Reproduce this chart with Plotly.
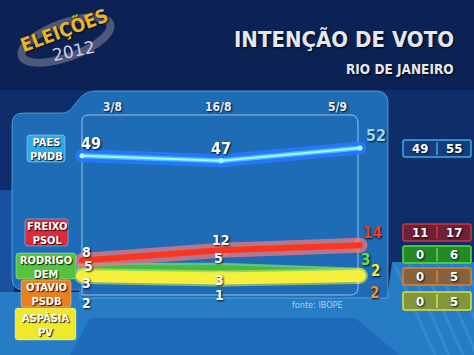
import numpy as np
import plotly.graph_objects as go

# ---------------- data ----------------
dates = ["3/8", "16/8", "5/9"]
names = ["PAES", "FREIXO", "RODRIGO", "OTAVIO", "ASPÁSIA"]
parties = ["PMDB", "PSOL", "DEM", "PSDB", "PV"]
paes = [49, 47, 52]
freixo = [8, 12, 14]
rodrigo = [5, 5, 3]
otavio = [3, 3, 2]
aspasia = [2, 1, 2]
range_low = [49, 11, 0, 0, 0]
range_high = [55, 17, 6, 5, 5]
title = "INTENÇÃO DE VOTO"
subtitle = "RIO DE JANEIRO"
source = "fonte: IBOPE"

series = [paes, freixo, rodrigo, otavio, aspasia]

W, H = 474, 355
def X(px): return px / W
def Y(py): return 1 - py / H
def pt(px, py): return f"{X(px):.5f},{Y(py):.5f}"

def rrect(x0, y0, x1, y1, r):
    return (f"M {pt(x0+r,y0)} L {pt(x1-r,y0)} Q {pt(x1,y0)} {pt(x1,y0+r)} "
            f"L {pt(x1,y1-r)} Q {pt(x1,y1)} {pt(x1-r,y1)} L {pt(x0+r,y1)} "
            f"Q {pt(x0,y1)} {pt(x0,y1-r)} L {pt(x0,y0+r)} Q {pt(x0,y0)} {pt(x0+r,y0)} Z")

FONT = "DejaVu Sans Condensed"
SH = "1px 1px 2px rgba(0,0,0,0.9)"

fig = go.Figure()
shapes = []
ann = []

# ---------------- background ----------------
shapes.append(dict(type="rect", xref="paper", yref="paper", x0=0, x1=1, y0=0, y1=1,
                   fillcolor="rgb(13,34,84)", line_width=0, layer="below"))
shapes.append(dict(type="rect", xref="paper", yref="paper", x0=0, x1=1, y0=Y(90), y1=Y(265),
                   fillcolor="rgb(15,45,106)", line_width=0, layer="below"))
shapes.append(dict(type="rect", xref="paper", yref="paper", x0=0, x1=X(14), y0=Y(300), y1=Y(190),
                   fillcolor="rgb(25,80,160)", line_width=0, layer="below"))
shapes.append(dict(type="path", xref="paper", yref="paper",
                   path=f"M {pt(0,292)} L {pt(388,292)} L {pt(392,262)} L {pt(474,262)} L {pt(474,355)} L {pt(0,355)} Z",
                   fillcolor="rgb(38,125,198)", line_width=0, layer="below"))
shapes.append(dict(type="path", xref="paper", yref="paper",
                   path=f"M {pt(70,355)} L {pt(90,318)} L {pt(355,318)} L {pt(400,355)} Z",
                   fillcolor="rgb(30,108,185)", line_width=0, layer="below"))
for k in range(6):
    x0 = 395 + k * 14
    shapes.append(dict(type="line", xref="paper", yref="paper", x0=X(x0), y0=Y(265), x1=X(x0 + 40), y1=Y(355),
                       line=dict(color="rgba(120,200,240,0.18)", width=3), layer="below"))

# panel
panel = (f"M {pt(12,124)} Q {pt(12,113)} {pt(23,113)} L {pt(62,113)} "
         f"C {pt(76,113)} {pt(76,91)} {pt(96,91)} L {pt(376,91)} Q {pt(388,91)} {pt(388,103)} "
         f"L {pt(388,298)} L {pt(80,298)} L {pt(80,290)} L {pt(24,290)} Q {pt(12,290)} {pt(12,278)} Z")
shapes.append(dict(type="path", xref="paper", yref="paper", path=panel,
                   fillcolor="rgb(30,108,182)", line=dict(color="rgba(120,190,240,0.6)", width=1), layer="below"))
# inner box outline
inner = (f"M {pt(82,295)} L {pt(82,121)} Q {pt(82,115)} {pt(88,115)} L {pt(350,115)} "
         f"Q {pt(358,115)} {pt(358,123)} L {pt(358,287)} Q {pt(358,295)} {pt(350,295)} L {pt(82,295)}")
shapes.append(dict(type="path", xref="paper", yref="paper", path=inner,
                   line=dict(color="rgba(190,225,255,0.75)", width=1), layer="below"))

# logo ring
t = np.linspace(0, 2 * np.pi, 60)
a, b, rot = 47, 17, np.deg2rad(-20)
ex = 66 + a * np.cos(t) * np.cos(rot) - b * np.sin(t) * np.sin(rot)
ey = 40 + a * np.cos(t) * np.sin(rot) + b * np.sin(t) * np.cos(rot)
ring = "M " + " L ".join(pt(x, y) for x, y in zip(ex, ey)) + " Z"
shapes.append(dict(type="path", xref="paper", yref="paper", path=ring,
                   line=dict(color="rgba(85,95,125,0.9)", width=8), layer="below"))
ann.append(dict(xref="paper", yref="paper", x=X(64), y=Y(29), text="<b>ELEIÇÕES</b>", showarrow=False,
                textangle=-20, font=dict(family=FONT, size=19, color="rgb(232,180,40)", shadow=SH)))
ann.append(dict(xref="paper", yref="paper", x=X(73), y=Y(51), text="2012", showarrow=False,
                textangle=-12, font=dict(family="DejaVu Sans", size=17, color="rgb(205,210,225)")))

# title
ann.append(dict(xref="paper", yref="paper", x=X(456), y=Y(40), xanchor="right", text=f"<b>{title}</b>",
                showarrow=False, font=dict(family=FONT, size=22, color="rgb(228,232,242)", shadow=SH)))
ann.append(dict(xref="paper", yref="paper", x=X(456), y=Y(69), xanchor="right", text=f"<b>{subtitle}</b>",
                showarrow=False, font=dict(family=FONT, size=13.5, color="rgb(228,232,242)", shadow=SH)))

# ---------------- lines ----------------
styles = {
    3: [("rgb(235,145,40)", 6)],
    2: [("rgba(110,210,110,0.85)", 11), ("rgb(70,185,70)", 6)],
    4: [("rgba(215,235,90,0.55)", 16), ("rgb(246,240,60)", 12)],
    1: [("rgba(235,120,130,0.75)", 15), ("rgb(250,55,30)", 6)],
    0: [("rgba(40,120,255,0.9)", 13), ("rgb(70,190,255)", 5), ("rgb(170,245,255)", 2)],
}
for idx in [3, 2, 4, 1, 0]:
    for j, (col, w) in enumerate(styles[idx]):
        fig.add_trace(go.Scatter(x=dates, y=series[idx], mode="lines+markers",
                                 line=dict(color=col, width=w),
                                 marker=dict(color=col, size=w if j < len(styles[idx]) - 1 or idx != 0 else 5,
                                             line_width=0),
                                 hoverinfo="skip", showlegend=False))

# value labels (offsets in px)
offsets = {
    0: [(9, 12), (0, 12), (16, 13)],
    1: [(4, 9), (0, 10), (12, 12)],
    2: [(6, 2), (-3, 10), (5, 13)],
    3: [(4, -10), (-2, -7), (14, -17)],
    4: [(4, -27), (-2, -17), (15, 5)],
}
end_colors = ["rgb(150,215,250)", "rgb(240,60,50)", "rgb(110,225,60)", "rgb(240,145,45)", "rgb(245,235,60)"]
for idx, vals in enumerate(series):
    for k, v in enumerate(vals):
        dx, dy = offsets[idx][k]
        col = end_colors[idx] if k == 2 else "white"
        size = 16 if idx == 0 else (15 if k == 2 else 14)
        ann.append(dict(x=dates[k], y=v, xshift=dx, yshift=dy, text=f"<b>{v}</b>", showarrow=False,
                        font=dict(family=FONT, size=size, color=col, shadow=SH)))

# date header
date_shift = [30, -3, -23]
for k, d in enumerate(dates):
    ann.append(dict(x=d, y=Y(107), yref="paper", xshift=date_shift[k], text=f"<b>{d}</b>", showarrow=False,
                    font=dict(family=FONT, size=12, color="rgb(235,240,250)", shadow=SH)))

# legend boxes
leg_boxes = [(27, 135, 65, 162), (25, 219, 68, 246), (16, 253, 76, 279), (21, 280, 71, 307), (15, 308, 76, 340)]
leg_cols = ["rgb(45,170,230)", "rgb(222,40,62)", "rgb(85,195,60)", "rgb(232,128,30)", "rgb(240,232,45)"]
for i in range(5):
    x0, y0, x1, y1 = leg_boxes[i]
    shapes.append(dict(type="path", xref="paper", yref="paper", path=rrect(x0, y0, x1, y1, 3),
                       fillcolor=leg_cols[i], line=dict(color="rgba(255,255,255,0.35)", width=1)))
    ann.append(dict(xref="paper", yref="paper", x=X((x0 + x1) / 2), y=Y((y0 + y1) / 2 + 1),
                    text=f"<b>{names[i]}<br>{parties[i]}</b>", showarrow=False,
                    font=dict(family=FONT, size=11, color="white", shadow="1px 1px 1px rgba(0,0,0,0.9)")))

# range boxes
rb_y = [(140, 157), (224, 241), (246, 263), (268, 285), (292, 310)]
rb_line = ["rgb(60,170,230)", "rgb(205,55,65)", "rgb(85,225,60)", "rgb(220,130,50)", "rgb(215,228,60)"]
rb_fill = ["rgb(22,62,125)", "rgb(110,32,52)", "rgb(40,135,40)", "rgb(135,98,62)", "rgb(130,150,60)"]
for i in range(5):
    y0, y1 = rb_y[i]
    shapes.append(dict(type="path", xref="paper", yref="paper", path=rrect(403, y0, 471, y1, 2),
                       fillcolor=rb_fill[i], line=dict(color=rb_line[i], width=1.5)))
    shapes.append(dict(type="line", xref="paper", yref="paper", x0=X(437), x1=X(437), y0=Y(y0 + 2), y1=Y(y1 - 2),
                       line=dict(color=rb_line[i], width=1.5)))
    for xc, v in [(420, range_low[i]), (454, range_high[i])]:
        ann.append(dict(xref="paper", yref="paper", x=X(xc), y=Y((y0 + y1) / 2), text=f"<b>{v}</b>",
                        showarrow=False, font=dict(family=FONT, size=13, color="white", shadow=SH)))

ann.append(dict(xref="paper", yref="paper", x=X(317), y=Y(305), text=source, showarrow=False,
                font=dict(family=FONT, size=9, color="rgb(175,205,235)")))

for a_ in ann:
    a_.setdefault("xanchor", "center")
    a_.setdefault("yanchor", "middle")

# axis ranges: map index 0 -> 82px, 2 -> 360px ; value 0 -> 281px, 52 -> 148px
kx = (360 - 82) / 2
x0r = -82 / kx
x1r = x0r + W / kx
ky = (281 - 148) / 52
y0r = -(H - 281) / ky
y1r = y0r + H / ky

fig.update_layout(
    width=W, height=H, margin=dict(l=0, r=0, t=0, b=0),
    paper_bgcolor="rgb(13,34,84)", plot_bgcolor="rgba(0,0,0,0)",
    xaxis=dict(type="category", range=[x0r, x1r], visible=False, fixedrange=True),
    yaxis=dict(range=[y0r, y1r], visible=False, fixedrange=True),
    shapes=shapes, annotations=ann, showlegend=False,
)
fig.write_html("out.html")
